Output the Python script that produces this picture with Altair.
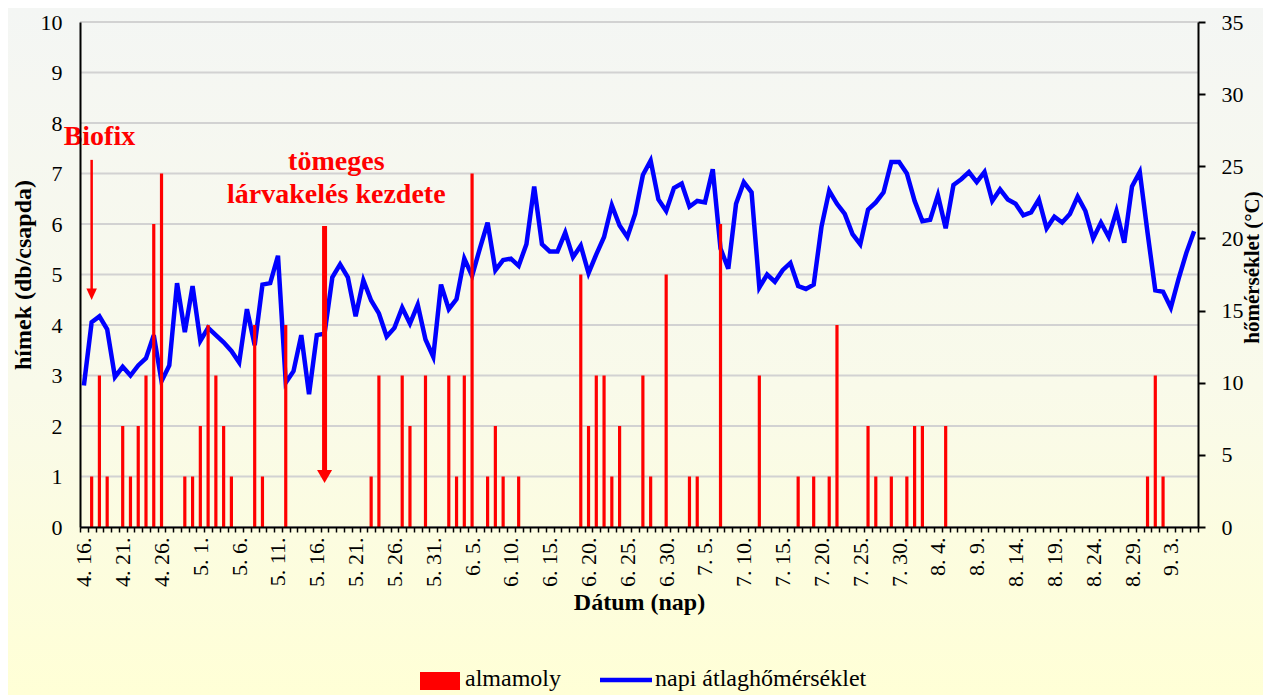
import json
import datetime as dt
import pandas as pd
import altair as alt

FONT = "Liberation Serif"

# ---- categories (days 4.16 .. 9.6) ----
start = dt.date(2000, 4, 16)
n_days = 144
days = [f"{d.month}. {d.day}." for d in (start + dt.timedelta(days=k) for k in range(n_days))]

tick_labels = ["4. 16.", "4. 21.", "4. 26.", "5. 1.", "5. 6.", "5. 11.", "5. 16.", "5. 21.",
               "5. 26.", "5. 31.", "6. 5.", "6. 10.", "6. 15.", "6. 20.", "6. 25.", "6. 30.",
               "7. 5.", "7. 10.", "7. 15.", "7. 20.", "7. 25.", "7. 30.", "8. 4.", "8. 9.",
               "8. 14.", "8. 19.", "8. 24.", "8. 29.", "9. 3."]

# ---- series ----
temperature = [
    9.8, 14.2, 14.6, 13.7, 10.4, 11.1, 10.5, 11.2, 11.7, 13.3,
    10.1, 11.2, 16.9, 13.5, 16.7, 12.9, 13.8, 13.3, 12.8, 12.2,
    11.4, 15.1, 12.6, 16.8, 16.9, 18.8, 10.0, 10.8, 13.3, 9.2,
    13.3, 13.4, 17.3, 18.2, 17.3, 14.6, 17.1, 15.7, 14.8, 13.2,
    13.8, 15.2, 14.1, 15.4, 13.0, 11.8, 16.8, 15.1, 15.8, 18.6,
    17.4, 19.3, 21.1, 17.8, 18.5, 18.6, 18.1, 19.6, 23.6, 19.6,
    19.1, 19.1, 20.4, 18.7, 19.5, 17.6, 18.9, 20.1, 22.3, 20.9,
    20.1, 21.7, 24.4, 25.4, 22.7, 21.9, 23.5, 23.8, 22.2, 22.6,
    22.5, 24.8, 19.3, 17.9, 22.4, 23.9, 23.2, 16.6, 17.5, 17.0,
    17.8, 18.3, 16.7, 16.5, 16.8, 20.8, 23.3, 22.4, 21.7, 20.3,
    19.6, 22.0, 22.5, 23.2, 25.3, 25.3, 24.5, 22.6, 21.2, 21.3,
    23.0, 20.7, 23.7, 24.1, 24.6, 23.9, 24.6, 22.6, 23.4, 22.7,
    22.4, 21.6, 21.8, 22.7, 20.7, 21.5, 21.1, 21.7, 22.9, 21.9,
    20.0, 21.1, 20.1, 21.9, 19.7, 23.6, 24.6, 20.4, 16.4, 16.3,
    15.2, 17.2, 19.0, 20.5,
]

moths = [
    0, 1, 3, 1, 0, 2, 1, 2, 3, 6,
    7, 0, 0, 1, 1, 2, 4, 3, 2, 1,
    0, 0, 4, 1, 0, 0, 4, 0, 0, 0,
    0, 0, 0, 0, 0, 0, 0, 1, 3, 0,
    0, 3, 2, 0, 3, 0, 0, 3, 1, 3,
    7, 0, 1, 2, 1, 0, 1, 0, 0, 0,
    0, 0, 0, 0, 5, 2, 3, 3, 1, 2,
    0, 0, 3, 1, 0, 5, 0, 0, 1, 1,
    0, 0, 6, 0, 0, 0, 0, 3, 0, 0,
    0, 0, 1, 0, 1, 0, 1, 4, 0, 0,
    0, 2, 1, 0, 1, 0, 1, 2, 2, 0,
    0, 2, 0, 0, 0, 0, 0, 0, 0, 0,
    0, 0, 0, 0, 0, 0, 0, 0, 0, 0,
    0, 0, 0, 0, 0, 0, 0, 1, 3, 1,
    0, 0, 0, 0,
]

grid_values = list(range(0, 11))
temp_ticks = [0, 5, 10, 15, 20, 25, 30, 35]

# annotations
biofix_day, biofix_top, biofix_tip = days[1], 7.27, 4.61
biofix_text_day, biofix_text_y = days[2], 7.72
mass_day, mass_top, mass_tip = days[31], 5.96, 1.0
mass_text_day = days[32]
mass_text_lines = ["tömeges", "lárvakelés  kezdete"]
mass_text_y = [7.23, 6.57]
legend_labels = ["almamoly", "napi átlaghőmérséklet"]

W, H = 1118, 505
PAD = {"left": 72, "top": 14, "right": 65, "bottom": 168}

df = pd.DataFrame({"day": days, "temp": temperature, "moths": moths})

label_expr = f"indexof({json.dumps(tick_labels, ensure_ascii=False)}, datum.value) >= 0 ? datum.value : ''"

x_enc = alt.X(
    "day:N", sort=days,
    scale=alt.Scale(paddingInner=0, paddingOuter=0),
    axis=alt.Axis(
        title="Dátum (nap)", labelExpr=label_expr, labelAngle=270, labelAlign="right",
        labelBaseline="middle", labelFont=FONT, labelFontSize=22, labelColor="black",
        labelOverlap=False, labelPadding=5, tickBand="extent", tickSize=5, tickWidth=1.5,
        tickColor="black", domainColor="black", domainWidth=2, grid=False,
        titleFont=FONT, titleFontSize=24, titleFontWeight="bold", titleColor="black",
        titlePadding=4, zindex=2,
    ),
)

ydom10 = alt.Scale(domain=[0, 10], nice=False)

bg = alt.Chart(pd.DataFrame({"a": [0]})).mark_rect(
    clip=False,
    color=alt.Gradient(
        gradient="linear", x1=0, x2=0, y1=0, y2=1,
        stops=[alt.GradientStop(color="#F4F6F4", offset=0),
               alt.GradientStop(color="#F9FAEA", offset=0.55),
               alt.GradientStop(color="#FFFFD6", offset=1)],
    ),
).encode(x=alt.value(-PAD["left"]), x2=alt.value(W + PAD["right"]),
         y=alt.value(-PAD["top"]), y2=alt.value(H + PAD["bottom"]))

grid = alt.Chart(pd.DataFrame({"g": grid_values})).mark_rule(
    color="#D2D2D2", strokeWidth=2
).encode(y=alt.Y("g:Q", scale=ydom10, axis=None))

line = alt.Chart(df).mark_line(color="#0000FF", strokeWidth=4.5).encode(
    x=x_enc,
    y=alt.Y("temp:Q", scale=alt.Scale(domain=[0, 35], nice=False),
            axis=alt.Axis(
                orient="right", values=temp_ticks, grid=False, title="hőmérséklet (°C)",
                titleAngle=270, titleX=54, titleY=245, titleAlign="center",
                titleBaseline="middle", tickSize=7, tickWidth=2, tickColor="black",
                domainColor="black", domainWidth=2, labelFont=FONT, labelFontSize=22,
                labelColor="black", labelPadding=16, titleFont=FONT, titleFontSize=21,
                titleFontWeight="bold", titleColor="black", zindex=2,
            )),
)

bars = alt.Chart(df).mark_bar(color="#FF0000", size=3.2).encode(
    x=x_enc,
    y=alt.Y("moths:Q", scale=ydom10,
            axis=alt.Axis(
                orient="left", values=grid_values, grid=False, ticks=False,
                title="hímek (db/csapda)", domainColor="black", domainWidth=2,
                labelFont=FONT, labelFontSize=22, labelColor="black", labelPadding=18,
                titleFont=FONT, titleFontSize=24, titleFontWeight="bold",
                titleColor="black", titlePadding=5, zindex=2,
            )),
)

ann_df = pd.DataFrame({
    "day": [biofix_day, mass_day],
    "top": [biofix_top, mass_top],
    "tip": [biofix_tip, mass_tip],
})

biofix_shaft = alt.Chart(ann_df.iloc[[0]]).mark_rule(color="#FF0000", strokeWidth=2.5).encode(
    x=alt.X("day:N", sort=days), y=alt.Y("top:Q", scale=ydom10, axis=None), y2="tip:Q")
biofix_head = alt.Chart(ann_df.iloc[[0]]).mark_point(
    shape="M-1,-1.1L1,-1.1L0,1.1Z", filled=True, color="#FF0000", size=110, opacity=1
).encode(x=alt.X("day:N", sort=days), y=alt.Y("tip:Q", scale=ydom10, axis=None))

mass_shaft = alt.Chart(ann_df.iloc[[1]]).mark_rule(color="#FF0000", strokeWidth=5).encode(
    x=alt.X("day:N", sort=days), y=alt.Y("top:Q", scale=ydom10, axis=None), y2="tip:Q")
mass_head = alt.Chart(ann_df.iloc[[1]]).mark_point(
    shape="M-1,-0.87L1,-0.87L0,0.87Z", filled=True, color="#FF0000", size=225, opacity=1
).encode(x=alt.X("day:N", sort=days), y=alt.Y("tip:Q", scale=ydom10, axis=None))

biofix_text = alt.Chart(pd.DataFrame({"day": [biofix_text_day], "y": [biofix_text_y], "t": ["Biofix"]})).mark_text(
    font=FONT, fontSize=28, fontWeight="bold", color="#FF0000", baseline="middle"
).encode(x=alt.X("day:N", sort=days), y=alt.Y("y:Q", scale=ydom10, axis=None), text="t:N")

mass_text = alt.Chart(pd.DataFrame({"day": [mass_text_day] * 2, "y": mass_text_y, "t": mass_text_lines})).mark_text(
    font=FONT, fontSize=28, fontWeight="bold", color="#FF0000", baseline="middle", dx=4
).encode(x=alt.X("day:N", sort=days), y=alt.Y("y:Q", scale=ydom10, axis=None), text="t:N")

# manual legend (below the axis title)
leg_rect = alt.Chart(pd.DataFrame({"a": [0]})).mark_rect(color="#FF0000", clip=False).encode(
    x=alt.value(340), x2=alt.value(380), y=alt.value(650), y2=alt.value(668))
leg_line = alt.Chart(pd.DataFrame({"a": [0]})).mark_rule(color="#0000FF", strokeWidth=4.5, clip=False).encode(
    x=alt.value(520), x2=alt.value(572), y=alt.value(658))
leg_text = alt.Chart(pd.DataFrame({"t": legend_labels, "px": [385, 575]})).mark_text(
    font=FONT, fontSize=24, color="black", align="left", baseline="middle", clip=False
).encode(x=alt.X("px:Q", scale=None), y=alt.value(657), text="t:N")

chart = alt.layer(
    bg, grid, line, bars, biofix_shaft, biofix_head, mass_shaft, mass_head,
    biofix_text, mass_text, leg_rect, leg_line, leg_text
).resolve_scale(y="independent").properties(
    width=W, height=H, padding=PAD,
    autosize=alt.AutoSizeParams(type="none"),
    background="#FAFBE8",
).configure_view(stroke=None).configure(font=FONT)

chart.save("out.html", embed_options={"renderer": "svg", "actions": False})
